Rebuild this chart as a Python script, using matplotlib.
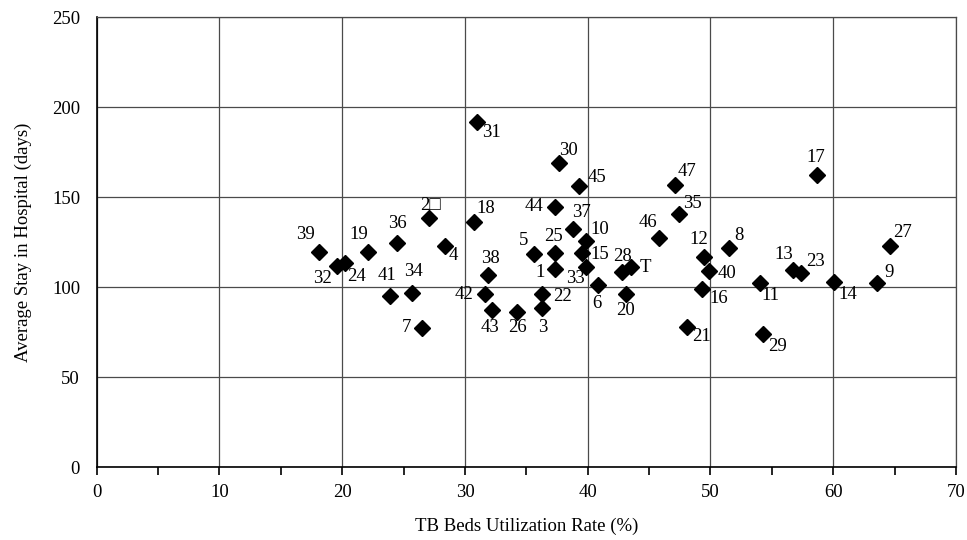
import matplotlib
matplotlib.use("Agg")
import matplotlib.pyplot as plt
from matplotlib.ticker import MultipleLocator

# ---- data ----
labels = ["39", "32", "24", "19", "36", "2\u25A1", "4", "18", "41", "34", "38", "42",
          "43", "7", "31", "30", "44", "45", "37", "10", "25", "5", "15", "33",
          "1", "28", "T", "6", "20", "22", "3", "26", "46", "47", "35", "12",
          "40", "16", "8", "21", "11", "29", "13", "23", "17", "14", "9", "27"]
util_rate = [18.1, 19.6, 20.2, 22.1, 24.5, 27.1, 28.4, 30.7, 23.9, 25.7, 31.9, 31.6,
             32.2, 26.5, 31.0, 37.7, 37.3, 39.3, 38.8, 39.9, 37.3, 35.6, 39.5, 39.9,
             37.3, 42.8, 43.5, 40.8, 43.1, 36.3, 36.3, 34.2, 45.8, 47.1, 47.4, 49.5,
             49.9, 49.3, 51.5, 48.1, 54.0, 54.3, 56.7, 57.4, 58.7, 60.1, 63.6, 64.6]
avg_stay = [119.6, 111.7, 113.5, 119.6, 124.6, 138.2, 122.9, 136.3, 95.0, 96.8, 106.7, 95.9,
            87.2, 77.1, 191.8, 168.7, 144.3, 156.1, 132.2, 125.7, 118.7, 118.2, 118.7, 110.9,
            110.0, 108.5, 110.9, 101.1, 95.9, 95.9, 88.5, 86.3, 127.4, 156.7, 140.6, 116.8,
            109.1, 99.1, 121.8, 77.9, 102.1, 73.7, 109.4, 107.6, 162.2, 102.9, 102.4, 122.8]

x_ticks = [0, 10, 20, 30, 40, 50, 60, 70]
y_ticks = [0, 50, 100, 150, 200, 250]

# label placement (pixel offsets of label centre from its marker)
label_offsets = {
    "39": (-13, 17), "32": (-15, -13), "24": (12, -14), "19": (-9, 17), "36": (0, 19),
    "2\u25A1": (1, 13), "4": (8, -10), "18": (12, 13), "41": (-3, 21), "34": (1, 21),
    "38": (2, 17), "42": (-21, 0), "43": (-2, -17), "7": (-16, 1), "31": (14, -11),
    "30": (9, 13), "44": (-21, 1), "45": (18, 9), "37": (8, 17), "10": (13, 11),
    "25": (-1, 17), "5": (-10, 14), "15": (18, -1), "33": (-11, -11), "1": (-14, -3),
    "28": (0, 15), "T": (15, 0), "6": (-1, -18), "20": (0, -16), "22": (20, -2),
    "3": (0, -20), "26": (1, -16), "46": (-11, 15), "47": (12, 13), "35": (14, 10),
    "12": (-6, 17), "40": (18, -3), "16": (17, -10), "8": (10, 12), "21": (14, -10),
    "11": (11, -12), "29": (14, -12), "13": (-9, 16), "23": (14, 12), "17": (-1, 18),
    "14": (13, -13), "9": (12, 10), "27": (13, 14),
}

serif = ["Liberation Serif", "DejaVu Serif"]
plt.rcParams["font.family"] = serif

fig = plt.figure(figsize=(9.67, 5.40), dpi=100)
ax = fig.add_axes([0.100, 0.135, 0.8886, 0.8335])

ax.plot(util_rate, avg_stay, linestyle="none", marker="D", markersize=8,
        color="black", zorder=3)

for lab, xv, yv in zip(labels, util_rate, avg_stay):
    dx, dy = label_offsets[lab]
    ax.annotate(lab, (xv, yv), xytext=(dx, dy), textcoords="offset pixels",
                ha="center", va="center", fontsize=13.5,
                family=["Liberation Serif", "DejaVu Sans"], zorder=4)

ax.set_xlim(0, 70)
ax.set_ylim(0, 250)
ax.set_xticks(x_ticks)
ax.set_yticks(y_ticks)
ax.xaxis.set_minor_locator(MultipleLocator(5))
ax.grid(True, which="major", color="#4a4a4a", linewidth=0.9)
ax.set_axisbelow(True)

ax.tick_params(axis="x", which="both", direction="out", length=6, width=1.2,
               labelsize=13.5, pad=6)
ax.tick_params(axis="y", which="both", length=0, labelsize=13.5, pad=12)

for side in ["top", "right"]:
    ax.spines[side].set_color("#4a4a4a")
    ax.spines[side].set_linewidth(0.9)
for side in ["left", "bottom"]:
    ax.spines[side].set_color("black")
    ax.spines[side].set_linewidth(1.2)

ax.set_xlabel("TB Beds Utilization Rate (%)", fontsize=13.5, labelpad=12)
ax.set_ylabel("Average Stay in Hospital (days)", fontsize=13.5, labelpad=14)

fig.savefig("out.png", dpi=100)
